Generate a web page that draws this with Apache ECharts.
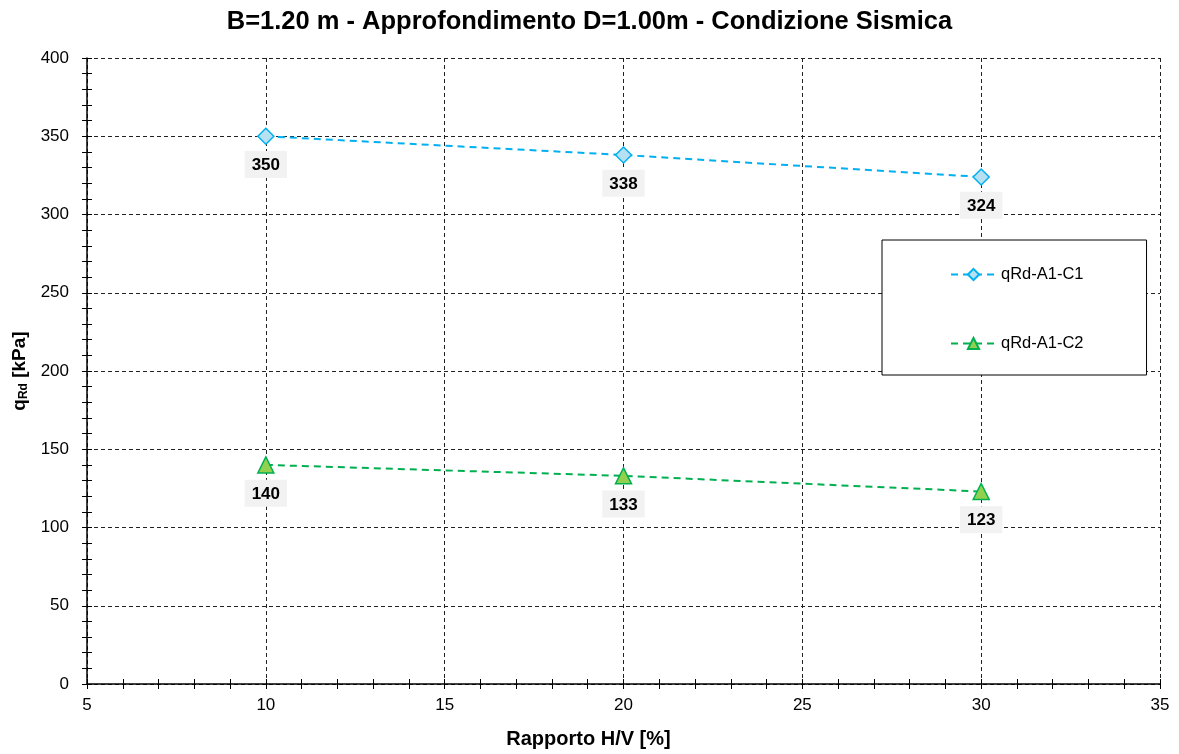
<!DOCTYPE html>
<html>
<head>
<meta charset="utf-8">
<script src="https://cdn.jsdelivr.net/npm/echarts@6/dist/echarts.min.js"></script>
<style>html,body{margin:0;padding:0;background:#fff}#c{width:1179px;height:754px}</style>
</head>
<body>
<div id="c"></div>
<script>
const xValues = [10, 20, 30];
const seriesNames = ['qRd-A1-C1', 'qRd-A1-C2'];
const c1Values = [350, 338, 324];
const c2Values = [140, 133, 123];
const titleText = 'B=1.20 m - Approfondimento D=1.00m - Condizione Sismica';
const xAxisTitle = 'Rapporto H/V [%]';

const FONT = 'Liberation Sans';
const chart = echarts.init(document.getElementById('c'));

function pairs(vals) { return xValues.map((x, i) => [x, vals[i]]); }

const labelCfg = {
  show: true, position: 'bottom', distance: 6,
  formatter: p => Math.round(p.value[1]),
  fontFamily: FONT, fontWeight: 'bold', fontSize: 17, color: '#000',
  backgroundColor: '#f2f2f2', padding: [6, 7, 4, 7]
};

const axisLineCfg = { show: true, onZero: false, lineStyle: { color: '#000', width: 1.5 } };

chart.setOption({
  animation: false,
  backgroundColor: '#fff',
  title: {
    text: titleText, left: 'center', top: 4,
    textStyle: { fontFamily: FONT, fontWeight: 'bold', fontSize: 25.5, color: '#000' }
  },
  grid: { left: 87, right: 19, top: 58, bottom: 69 },
  legend: {
    orient: 'vertical', left: 882, top: 240,
    data: seriesNames,
    backgroundColor: '#fff', borderColor: '#000', borderWidth: 1,
    padding: [26, 63, 23, 68],
    itemGap: 52, itemWidth: 45, itemHeight: 14,
    textStyle: { fontFamily: FONT, fontSize: 16.5, color: '#000' }
  },
  xAxis: [{
    type: 'value', min: 5, max: 35, interval: 5,
    axisLine: axisLineCfg,
    axisTick: { show: true, length: 5, lineStyle: { color: '#000' } },
    minorTick: { show: true, splitNumber: 5, length: 5, lineStyle: { color: '#000' } },
    axisLabel: { fontFamily: FONT, fontSize: 17, color: '#000', margin: 13 },
    splitLine: { show: true, lineStyle: { color: '#222', type: [4, 3], width: 1 } },
    name: xAxisTitle, nameLocation: 'middle', nameGap: 45,
    nameTextStyle: { fontFamily: FONT, fontWeight: 'bold', fontSize: 20, color: '#000', padding: [0, 70, 0, 0] }
  }, {
    type: 'value', min: 5, max: 35, interval: 5, position: 'bottom',
    axisLine: { show: false },
    axisTick: { show: true, inside: true, length: 5, lineStyle: { color: '#000' } },
    minorTick: { show: true, splitNumber: 5, length: 5, lineStyle: { color: '#000' } },
    axisLabel: { show: false }, splitLine: { show: false }
  }],
  yAxis: [{
    type: 'value', min: 0, max: 400, interval: 50,
    axisLine: axisLineCfg,
    axisTick: { show: true, length: 5, lineStyle: { color: '#000' } },
    minorTick: { show: true, splitNumber: 5, length: 5, lineStyle: { color: '#000' } },
    axisLabel: { fontFamily: FONT, fontSize: 17, color: '#000', margin: 18 },
    splitLine: { show: true, lineStyle: { color: '#222', type: [4, 3], width: 1 } },
    name: '{a|q}{b|Rd}{a| [kPa]}', nameLocation: 'middle', nameGap: 57, nameRotate: 90,
    nameTextStyle: {
      rich: {
        a: { fontFamily: FONT, fontWeight: 'bold', fontSize: 19, color: '#000' },
        b: { fontFamily: FONT, fontWeight: 'bold', fontSize: 12, color: '#000', verticalAlign: 'bottom', padding: [7, 0, 0, 0] }
      }
    }
  }, {
    type: 'value', min: 0, max: 400, interval: 50, position: 'left',
    axisLine: { show: false },
    axisTick: { show: true, inside: true, length: 5, lineStyle: { color: '#000' } },
    minorTick: { show: true, splitNumber: 5, length: 5, lineStyle: { color: '#000' } },
    axisLabel: { show: false }, splitLine: { show: false }
  }],
  series: [{
    name: seriesNames[0], type: 'line', data: pairs(c1Values),
    symbol: 'diamond', symbolSize: 16,
    lineStyle: { color: '#00b0f0', width: 2, type: [7, 5] },
    itemStyle: { color: '#b7e1f3', borderColor: '#00b0f0', borderWidth: 1.5 },
    label: labelCfg, z: 5
  }, {
    name: seriesNames[1], type: 'line', data: pairs(c2Values),
    symbol: 'triangle', symbolSize: 16,
    lineStyle: { color: '#00b050', width: 2, type: [7, 5] },
    itemStyle: { color: '#92d050', borderColor: '#00b050', borderWidth: 1.5 },
    label: labelCfg, z: 5
  }]
});
</script>
</body>
</html>
